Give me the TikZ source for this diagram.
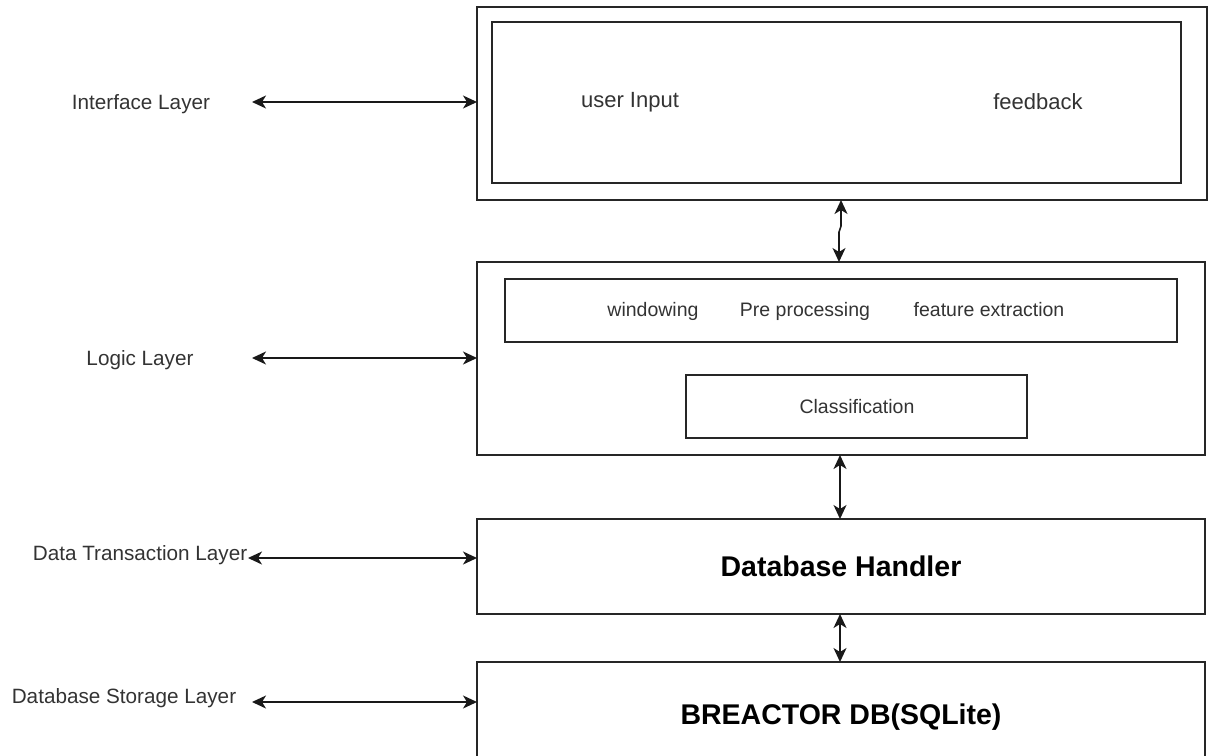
\documentclass[tikz,border=0pt]{standalone}
\usepackage{fontspec}
\setmainfont{Liberation Sans}
\usetikzlibrary{arrows.meta}

\begin{document}
\begin{tikzpicture}[x=1pt,y=-1pt,
  box/.style={draw=black!85, line width=1.6pt, inner sep=0pt, outer sep=0pt, anchor=north west},
  lbl/.style={font=\fontsize{19.5}{23}\selectfont, text=black!80, inner sep=0pt},
  sidelbl/.style={font=\fontsize{20.7}{25}\selectfont, text=black!80, inner sep=0pt},
  biglbl/.style={font=\fontsize{22}{26}\selectfont, text=black!80, inner sep=0pt},
  boldlbl/.style={font=\bfseries\fontsize{28.5}{33}\selectfont, text=black, inner sep=0pt},
  biarrow/.style={line width=1.6pt, draw=black!90,
    {Stealth[length=14pt,width=13pt,inset=4pt]}-{Stealth[length=14pt,width=13pt,inset=4pt]}}
]
\useasboundingbox (0,0) rectangle (1214,755);
\clip (0,0) rectangle (1214,755);

% interface layer
\node[box, minimum width=730pt, minimum height=193pt] (iface) at (477,7) {};
\node[box, minimum width=689pt, minimum height=161pt] (ifaceIn) at (492,22) {};
\node[biglbl] (userin) at (630,102) {user Input};
\node[biglbl] (fb) at (1038,102) {feedback};

% logic layer
\node[box, minimum width=728pt, minimum height=193pt] (logic) at (477,262) {};
\node[box, minimum width=672pt, minimum height=63pt] (pipe) at (505,279) {};
\node[lbl, anchor=base] (win) at (653,316) {windowing};
\node[lbl, anchor=base] (pre) at (805,316) {Pre processing};
\node[lbl, anchor=base] (feat) at (989,316) {feature extraction};
\node[box, minimum width=341pt, minimum height=63pt] (cls) at (686,375) {};
\node[lbl] (clstxt) at (857,407) {Classification};

% data transaction layer
\node[box, minimum width=728pt, minimum height=95pt] (dbh) at (477,519) {};
\node[boldlbl] (dbhtxt) at (841,566) {Database Handler};

% storage layer
\node[box, minimum width=728pt, minimum height=120pt] (db) at (477,662) {};
\node[boldlbl] (dbtxt) at (841,717) {BREACTOR DB(SQLite)};

% layer names
\node[sidelbl] (lIface) at (141,104) {Interface Layer};
\node[sidelbl] (lLogic) at (140,360) {Logic Layer};
\node[sidelbl] (lData) at (140,555) {Data Transaction Layer};
\node[sidelbl] (lStore) at (124,698) {Database Storage Layer};

% connectors from the layer names to the layers
\coordinate (aI) at (252,102);
\coordinate (aL) at (252,358);
\coordinate (aD) at (248,558);
\coordinate (aS) at (252,702);
\draw[biarrow] (aI) -- (aI -| iface.west);
\draw[biarrow] (aL) -- (aL -| logic.west);
\draw[biarrow] (aD) -- (aD -| dbh.west);
\draw[biarrow] (aS) -- (aS -| db.west);

% connectors between layers
\coordinate (j1) at (841,226);
\coordinate (j2) at (839,232);
\draw[biarrow] (iface.south -| j1) -- (j1) -- (j2) -- (j2 |- logic.north);
\coordinate (v2) at (840,0);
\draw[biarrow] (v2 |- logic.south) -- (v2 |- dbh.north);
\draw[biarrow] (v2 |- dbh.south) -- (v2 |- db.north);
\end{tikzpicture}
\end{document}
